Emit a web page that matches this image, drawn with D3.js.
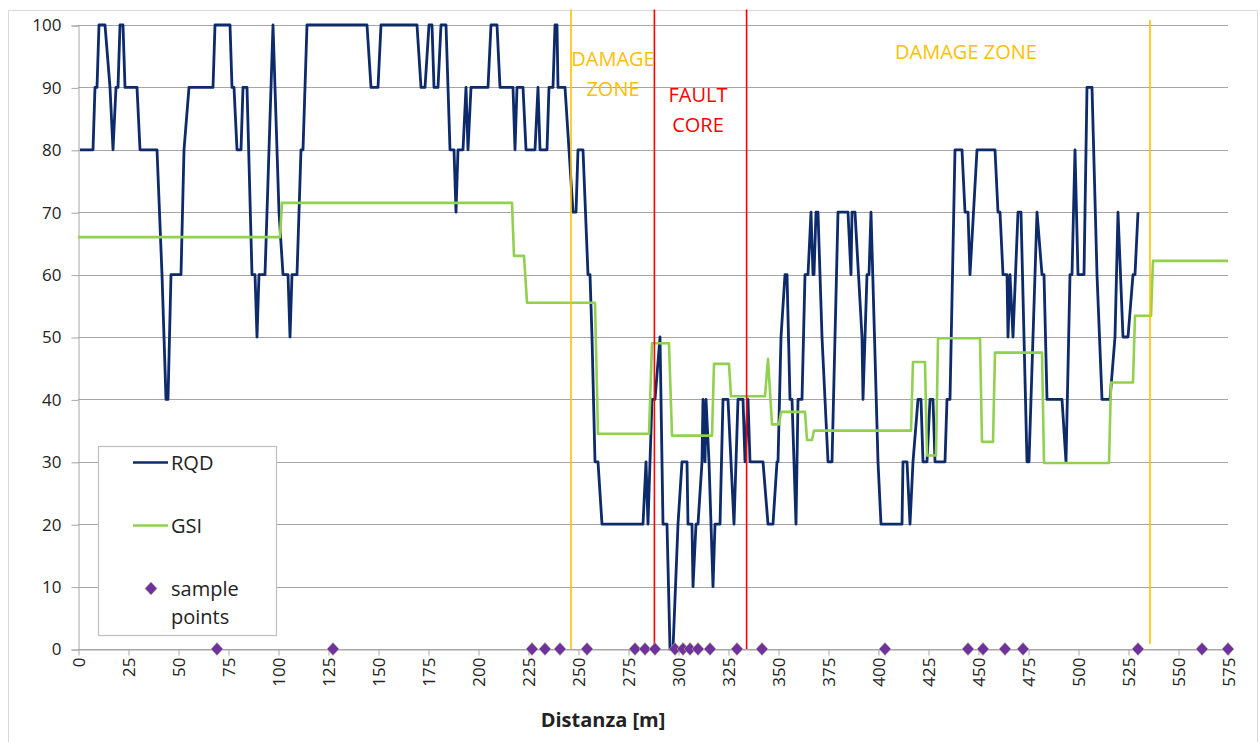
<!DOCTYPE html>
<html>
<head>
<meta charset="utf-8">
<script src="https://cdn.jsdelivr.net/npm/d3@7"></script>
<style>
  body { margin: 0; background: #fff; }
  svg { display: block; font-family: "Open Sans", "Noto Sans", sans-serif; }
</style>
</head>
<body>
<svg id="chart" width="1260" height="742"></svg>
<script>
// RQD profile along the tunnel: [distance m, RQD %]
const rqd = [
  [1,80],[7.5,80],[8.5,90],[9.5,90],[10.5,100],[13.5,100],[16,90],[17.5,80],[19,90],[20,90],[21,100],[22.5,100],
  [23.5,90],[29.5,90],[31,80],[39.5,80],[42,60],[44,40],[45,40],[46.5,60],[51.5,60],[53,80],[55.5,90],[67.5,90],
  [68.5,100],[76,100],[77,90],[78,90],[79.5,80],[81.5,80],[82.5,90],[84.5,90],[87,60],[88.5,60],[89.5,50],[90.5,60],
  [93.5,60],[97.5,100],[100.5,70],[102.5,60],[105,60],[106,50],[107,60],[109.5,60],[111.5,80],[112.5,80],[114.5,100],
  [144.5,100],[146.5,90],[150,90],[151.5,100],[169.5,100],[171.5,90],[173.5,90],[175.5,100],[177,100],[178,90],
  [180,90],[181.5,100],[184,100],[186,80],[188,80],[189,70],[190,80],[192.5,80],[194,90],[195,80],[196.5,90],
  [205,90],[206.5,100],[209.5,100],[211,90],[217.5,90],[218.5,80],[219.5,90],[222.5,90],[224,80],[228.5,80],
  [230,90],[231,80],[234.5,80],[235.5,90],[237.5,90],[238.5,100],[239.5,100],[240,90],[243.5,90],[245.5,80],
  [247.5,70],[249,70],[250,80],[252.5,80],[255,60],[256,60],[257,50],[258.5,30],[260,30],[262,20],[282.5,20],
  [284,30],[285,20],[286,30],[287,40],[288.5,40],[291,50],[292.5,20],[294.5,20],[296,0],[297.5,0],[300,20],
  [302,30],[304.5,30],[305,20],[307,20],[307.5,10],[309,20],[310,20],[312,30],[312.5,40],[313.5,30],[314,40],
  [315.5,30],[317.5,10],[318.5,20],[321,20],[322.5,40],[325,40],[328,20],[330,40],[332.5,40],[333.5,30],[335,40],
  [336,30],[342.5,30],[345,20],[347.5,20],[349.5,30],[350,30],[351.5,50],[353.5,60],[354.5,60],[356,40],[357,40],
  [359,20],[360,40],[362,40],[363.5,60],[365,60],[366.5,70],[367.5,60],[368,60],[369,70],[370,70],[372,50],
  [375,30],[377,30],[380,70],[385,70],[386.5,60],[387,70],[388.5,70],[392,50],[392.5,40],[394.5,60],[395.5,60],
  [396.5,70],[400,30],[401.5,20],[412,20],[412.5,30],[414.5,30],[416,20],[417.5,30],[420,40],[421.5,40],[422.5,30],
  [424.5,30],[426,40],[427.5,40],[428.5,30],[433.5,30],[434.5,40],[436,40],[438.5,80],[442,80],[443.5,70],[445,70],
  [446,60],[449.5,80],[458.5,80],[460,70],[461,70],[462.5,60],[464.5,60],[465,50],[466,60],[467.5,50],[470,70],
  [471.5,70],[474.5,30],[475.5,30],[479.5,70],[482,60],[483,60],[484.5,40],[492,40],[494,30],[496,60],[497,60],
  [498.5,80],[500,60],[503,60],[504.5,90],[507,90],[509.5,60],[512,40],[516,40],[518.5,50],[520,70],[522.5,50],
  [525,50],[527.5,60],[528.5,60],[530,70]
];

// GSI profile (stepwise): [distance m, GSI]
const gsi = [
  [0,66],[101,66],[102,71.5],[217,71.5],[218,63],[223,63],[224.5,55.5],[258.5,55.5],[260,34.5],[285.5,34.5],
  [287,49],[295.5,49],[297,34.2],[317,34.2],[318,45.7],[325.5,45.7],[326.5,40.5],[343.5,40.5],[345,46.5],[347,36],
  [350.5,36],[351.5,38],[363.5,38],[364.5,33.5],[367,33.5],[368,35],[416.5,35],[417.5,46],[423.5,46],[424.5,31],
  [429,31],[430,49.8],[451,49.8],[452,33.2],[457.5,33.2],[458.5,47.5],[482,47.5],[483,29.8],[515.5,29.8],
  [516.5,42.7],[527.5,42.7],[528.5,53.4],[536.5,53.4],[537.5,62.2],[575,62.2]
];

// Sampling locations (m)
const samplePoints = [69.5,127.5,227,233.5,241,254.5,278.5,283.5,288.5,298.5,302.5,306,310,316,329.5,342,
  403.5,445,452.5,463.5,472.5,530,562,575];

// Zone boundaries (m) and their kind
const zoneBounds = [246.5, 288.2, 334.3, 536];
const zoneKinds = ["damage", "core", "core", "damage"];

// Zone annotations: label lines, centre distance, kind
const zoneLabelLines = [["DAMAGE", "ZONE"], ["FAULT", "CORE"], ["DAMAGE ZONE"]];
const zoneLabelCentres = [267.5, 310, 444];
const zoneLabelKinds = ["damage", "core", "damage"];

const yTicks = [0, 10, 20, 30, 40, 50, 60, 70, 80, 90, 100];
const xTicks = [0,25,50,75,100,125,150,175,200,225,250,275,300,325,350,375,400,425,450,475,500,525,550,575];

const colors = { rqd: "#0d2a6b", gsi: "#92d050", damage: "#ffc000", core: "#ff0000",
                 sample: "#7030a0", grid: "#a6a6a6" };

const svg = d3.select("#chart");
const x = d3.scaleLinear().domain([0, 575]).range([78, 1228]);
const y = d3.scaleLinear().domain([0, 100]).range([649, 25]);

// chart area frame
svg.append("rect").attr("x", 8.5).attr("y", 10.5).attr("width", 1249).attr("height", 740)
  .attr("fill", "#fff").attr("stroke", "#d9d9d9").attr("stroke-width", 1);

// horizontal gridlines
svg.append("g").selectAll("line").data(yTicks).join("line")
  .attr("x1", x(0)).attr("x2", x(575))
  .attr("y1", d => Math.round(y(d)) + 0.5).attr("y2", d => Math.round(y(d)) + 0.5)
  .attr("stroke", colors.grid).attr("stroke-width", 1);

// y axis
const yAxis = svg.append("g").attr("transform", `translate(${x(0) + 0.5},0.5)`)
  .call(d3.axisLeft(y).tickValues(yTicks).tickSize(7).tickPadding(10));
yAxis.select(".domain").attr("stroke", colors.grid);
yAxis.selectAll(".tick line").attr("stroke", colors.grid);
yAxis.selectAll(".tick text").attr("font-size", 17).attr("fill", "#222")
  .attr("font-family", "'Open Sans', sans-serif");

// x axis
const xAxis = svg.append("g").attr("transform", `translate(0.5,${y(0) + 0.5})`)
  .call(d3.axisBottom(x).tickValues(xTicks).tickSize(6).tickSizeOuter(0));
xAxis.select(".domain").attr("stroke", colors.grid);
xAxis.selectAll(".tick line").attr("stroke", colors.grid);
xAxis.selectAll(".tick text")
  .attr("font-size", 17).attr("fill", "#222").attr("font-family", "'Open Sans', sans-serif")
  .attr("transform", "rotate(-90)")
  .attr("text-anchor", "end").attr("x", -8).attr("y", 0).attr("dy", "0.35em");

// axis title
svg.append("text").attr("x", 603).attr("y", 727).attr("text-anchor", "middle")
  .attr("font-size", 20).attr("font-weight", "bold").attr("fill", "#222").text("Distanza [m]");

// RQD line
const line = d3.line().x(d => x(d[0])).y(d => y(d[1]));
svg.append("path").datum(rqd).attr("d", line).attr("fill", "none")
  .attr("stroke", colors.rqd).attr("stroke-width", 2.8).attr("stroke-linejoin", "round");

// GSI line
svg.append("path").datum(gsi).attr("d", line).attr("fill", "none")
  .attr("stroke", colors.gsi).attr("stroke-width", 2.6).attr("stroke-linejoin", "round");

// zone boundaries
svg.append("g").selectAll("line").data(zoneBounds).join("line")
  .attr("x1", d => x(d)).attr("x2", d => x(d))
  .attr("y1", (d, i) => i === 3 ? y(100.8) : y(102.5)).attr("y2", (d, i) => i === 3 ? y(0.8) : y(0))
  .attr("stroke", (d, i) => colors[zoneKinds[i]]).attr("stroke-width", 1.6);

// zone labels
const labelTop = [66, 101.7, 59.4];
zoneLabelLines.forEach((lines, i) => {
  const t = svg.append("text").attr("text-anchor", "middle").attr("font-size", 20)
    .attr("fill", colors[zoneLabelKinds[i]]);
  lines.forEach((s, j) => {
    t.append("tspan").attr("x", x(zoneLabelCentres[i])).attr("y", labelTop[i] + j * 30).text(s);
  });
});

// sample points
const diamond = "M0,-6.5L6,0L0,6.5L-6,0Z";
svg.append("g").selectAll("path").data(samplePoints).join("path")
  .attr("d", diamond).attr("transform", d => `translate(${x(d)},${y(0)})`)
  .attr("fill", colors.sample).attr("stroke", "#a9c27a").attr("stroke-width", 0.6);

// legend
const lg = svg.append("g");
lg.append("rect").attr("x", 98.5).attr("y", 446.5).attr("width", 178).attr("height", 189)
  .attr("fill", "#fff").attr("stroke", "#bfbfbf").attr("stroke-width", 1.2);
const legendItems = [
  { key: "rqd", label: ["RQD"], y: 462.5 },
  { key: "gsi", label: ["GSI"], y: 525.5 },
  { key: "sample", label: ["sample", "points"], y: 588.5 }
];
legendItems.forEach(item => {
  if (item.key === "sample") {
    lg.append("path").attr("d", diamond).attr("transform", `translate(151,${item.y})`)
      .attr("fill", colors.sample).attr("stroke", "#a9c27a").attr("stroke-width", 0.6);
  } else {
    lg.append("line").attr("x1", 133).attr("x2", 168).attr("y1", item.y).attr("y2", item.y)
      .attr("stroke", colors[item.key]).attr("stroke-width", 2.6);
  }
  const t = lg.append("text").attr("font-size", 20).attr("fill", "#222");
  item.label.forEach((s, j) => {
    t.append("tspan").attr("x", 171).attr("y", item.y + 7 + j * 28).text(s);
  });
});
</script>
</body>
</html>
